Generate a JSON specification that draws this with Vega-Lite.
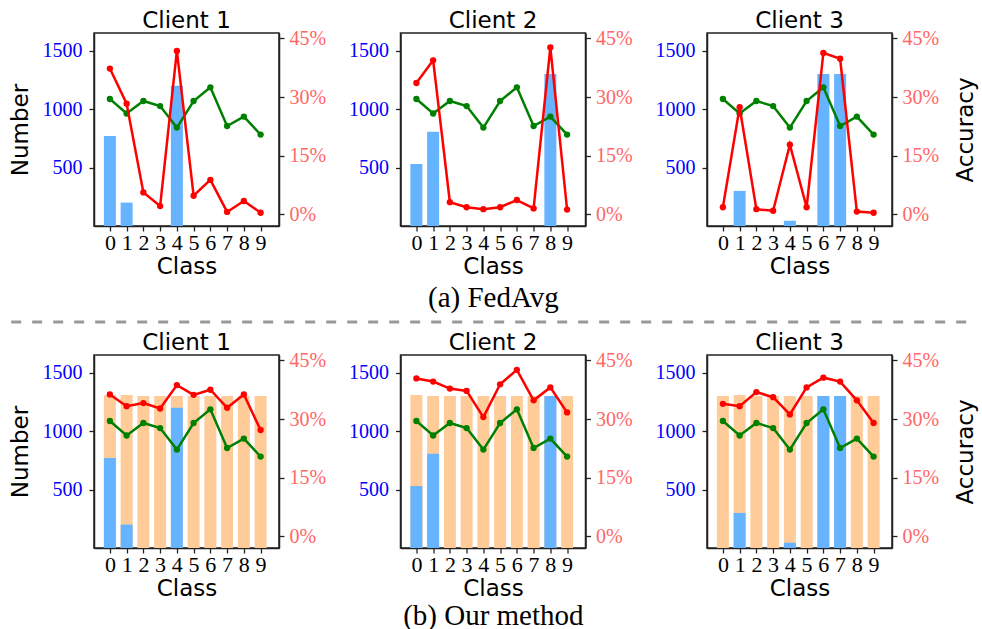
{
  "$schema": "https://vega.github.io/schema/vega-lite/v6.json",
  "background": "white",
  "padding": {"left": 4, "top": 9, "right": 0, "bottom": 0},
  "config": {
    "view": {"stroke": "#222", "strokeWidth": 1.5},
    "axis": {"grid": false, "domainColor": "#222", "tickColor": "#222", "domainWidth": 1.5, "tickWidth": 1.3, "tickSize": 5, "labelFont": "Liberation Serif", "labelFontSize": 20, "labelPadding": 3, "titleFont": "DejaVu Sans", "titleFontSize": 23, "titleFontWeight": "normal", "titleColor": "black", "labelColor": "black"},
    "title": {"font": "DejaVu Sans", "fontSize": 23, "fontWeight": "normal", "color": "black", "anchor": "middle", "frame": "group", "offset": -5}
  },
  "datasets": {
    "d": [
      {"m":"a","c":1,"k":0,"n":770,"r":37.3,"g":29.5},
      {"m":"a","c":1,"k":1,"n":200,"r":28.3,"g":25.8},
      {"m":"a","c":1,"k":2,"n":0,"r":5.6,"g":29.0},
      {"m":"a","c":1,"k":3,"n":0,"r":2.1,"g":27.7},
      {"m":"a","c":1,"k":4,"n":1200,"r":41.8,"g":22.2},
      {"m":"a","c":1,"k":5,"n":0,"r":4.75,"g":29.0},
      {"m":"a","c":1,"k":6,"n":0,"r":8.8,"g":32.5},
      {"m":"a","c":1,"k":7,"n":0,"r":0.6,"g":22.6},
      {"m":"a","c":1,"k":8,"n":0,"r":3.4,"g":25.0},
      {"m":"a","c":1,"k":9,"n":0,"r":0.4,"g":20.4},
      {"m":"a","c":2,"k":0,"n":530,"r":33.6,"g":29.5},
      {"m":"a","c":2,"k":1,"n":805,"r":39.4,"g":25.8},
      {"m":"a","c":2,"k":2,"n":0,"r":3.1,"g":29.0},
      {"m":"a","c":2,"k":3,"n":0,"r":1.8,"g":27.7},
      {"m":"a","c":2,"k":4,"n":0,"r":1.3,"g":22.2},
      {"m":"a","c":2,"k":5,"n":0,"r":1.8,"g":29.0},
      {"m":"a","c":2,"k":6,"n":0,"r":3.65,"g":32.5},
      {"m":"a","c":2,"k":7,"n":0,"r":1.5,"g":22.6},
      {"m":"a","c":2,"k":8,"n":1300,"r":42.7,"g":25.0},
      {"m":"a","c":2,"k":9,"n":0,"r":1.2,"g":20.4},
      {"m":"a","c":3,"k":0,"n":0,"r":1.8,"g":29.5},
      {"m":"a","c":3,"k":1,"n":300,"r":27.4,"g":25.8},
      {"m":"a","c":3,"k":2,"n":0,"r":1.3,"g":29.0},
      {"m":"a","c":3,"k":3,"n":0,"r":0.9,"g":27.7},
      {"m":"a","c":3,"k":4,"n":45,"r":17.8,"g":22.2},
      {"m":"a","c":3,"k":5,"n":0,"r":1.8,"g":29.0},
      {"m":"a","c":3,"k":6,"n":1300,"r":41.3,"g":32.5},
      {"m":"a","c":3,"k":7,"n":1300,"r":39.8,"g":22.6},
      {"m":"a","c":3,"k":8,"n":0,"r":0.7,"g":25.0},
      {"m":"a","c":3,"k":9,"n":0,"r":0.4,"g":20.4},
      {"m":"b","c":1,"k":0,"n":770,"t":1308,"r":36.3,"g":29.5},
      {"m":"b","c":1,"k":1,"n":200,"t":1308,"r":33.3,"g":25.8},
      {"m":"b","c":1,"k":2,"n":0,"t":1300,"r":34.1,"g":29.0},
      {"m":"b","c":1,"k":3,"n":0,"t":1300,"r":32.7,"g":27.7},
      {"m":"b","c":1,"k":4,"n":1200,"t":1300,"r":38.7,"g":22.2},
      {"m":"b","c":1,"k":5,"n":0,"t":1300,"r":36.2,"g":29.0},
      {"m":"b","c":1,"k":6,"n":0,"t":1300,"r":37.5,"g":32.5},
      {"m":"b","c":1,"k":7,"n":0,"t":1300,"r":32.9,"g":22.6},
      {"m":"b","c":1,"k":8,"n":0,"t":1300,"r":36.3,"g":25.0},
      {"m":"b","c":1,"k":9,"n":0,"t":1300,"r":27.2,"g":20.4},
      {"m":"b","c":2,"k":0,"n":530,"t":1308,"r":40.4,"g":29.5},
      {"m":"b","c":2,"k":1,"n":805,"t":1300,"r":39.6,"g":25.8},
      {"m":"b","c":2,"k":2,"n":0,"t":1300,"r":37.8,"g":29.0},
      {"m":"b","c":2,"k":3,"n":0,"t":1300,"r":37.2,"g":27.7},
      {"m":"b","c":2,"k":4,"n":0,"t":1300,"r":30.5,"g":22.2},
      {"m":"b","c":2,"k":5,"n":0,"t":1300,"r":38.9,"g":29.0},
      {"m":"b","c":2,"k":6,"n":0,"t":1300,"r":42.6,"g":32.5},
      {"m":"b","c":2,"k":7,"n":0,"t":1300,"r":34.8,"g":22.6},
      {"m":"b","c":2,"k":8,"n":1300,"t":1300,"r":38.1,"g":25.0},
      {"m":"b","c":2,"k":9,"n":0,"t":1300,"r":31.7,"g":20.4},
      {"m":"b","c":3,"k":0,"n":0,"t":1300,"r":33.9,"g":29.5},
      {"m":"b","c":3,"k":1,"n":300,"t":1308,"r":33.3,"g":25.8},
      {"m":"b","c":3,"k":2,"n":0,"t":1300,"r":36.9,"g":29.0},
      {"m":"b","c":3,"k":3,"n":0,"t":1300,"r":35.6,"g":27.7},
      {"m":"b","c":3,"k":4,"n":45,"t":1300,"r":31.2,"g":22.2},
      {"m":"b","c":3,"k":5,"n":0,"t":1300,"r":38.1,"g":29.0},
      {"m":"b","c":3,"k":6,"n":1300,"t":1300,"r":40.6,"g":32.5},
      {"m":"b","c":3,"k":7,"n":1300,"t":1300,"r":39.6,"g":22.6},
      {"m":"b","c":3,"k":8,"n":0,"t":1300,"r":34.8,"g":25.0},
      {"m":"b","c":3,"k":9,"n":0,"t":1300,"r":29.0,"g":20.4}
    ]
  },
  "data": {"name": "d"},
  "spacing": 7,
  "vconcat": [
    {
      "bounds": "flush",
      "spacing": 121.5,
      "title": {"text": "(a) FedAvg", "orient": "bottom", "font": "Liberation Serif", "fontSize": 29, "frame": "bounds", "offset": 5},
      "hconcat": [
        {
          "width": 185, "height": 193,
          "title": {"text": "Client 1"},
          "transform": [{"filter": "datum.m === 'a' && datum.c === 1"}],
          "layer": [
            {"layer": [
              {"mark": {"type": "bar", "width": 12, "color": "#66b3ff"},
               "encoding": {
                 "x": {"field": "k", "type": "quantitative", "scale": {"domain": [-0.65, 9.8], "nice": false, "zero": false}, "axis": {"values": [0,1,2,3,4,5,6,7,8,9], "format": "d", "labelOverlap": false, "title": "Class", "labelFontSize": 22, "labelPadding": 1, "titlePadding": 2}},
                 "y": {"field": "n", "type": "quantitative", "scale": {"domain": [0, 1650], "nice": false}, "axis": {"orient": "left", "values": [500, 1000, 1500], "format": "d", "labelPadding": 7, "labelColor": "#0000ff", "title": "Number", "titlePadding": 10}}
               }}
            ]},
            {"layer": [
              {"mark": {"type": "line", "color": "#008000", "strokeWidth": 2.5, "point": {"filled": true, "size": 40, "color": "#008000"}},
               "encoding": {
                 "x": {"field": "k", "type": "quantitative", "axis": {"values": [0,1,2,3,4,5,6,7,8,9], "format": "d", "labelOverlap": false, "title": "Class", "labelFontSize": 22, "labelPadding": 1, "titlePadding": 2}},
                 "y": {"field": "g", "type": "quantitative", "scale": {"domain": [-3, 46.4], "nice": false, "zero": false}, "axis": {"orient": "right", "values": [0, 15, 30, 45], "labelExpr": "datum.value + '%'", "labelPadding": 5, "labelColor": "#ff6666", "title": null}}
               }},
              {"mark": {"type": "line", "color": "#ff0000", "strokeWidth": 2.5, "point": {"filled": true, "size": 40, "color": "#ff0000"}},
               "encoding": {
                 "x": {"field": "k", "type": "quantitative", "axis": {"values": [0,1,2,3,4,5,6,7,8,9], "format": "d", "labelOverlap": false, "title": "Class", "labelFontSize": 22, "labelPadding": 1, "titlePadding": 2}},
                 "y": {"field": "r", "type": "quantitative"}
               }}
            ]}
          ],
          "resolve": {"scale": {"y": "independent"}}
        },
        {
          "width": 185, "height": 193,
          "title": {"text": "Client 2"},
          "transform": [{"filter": "datum.m === 'a' && datum.c === 2"}],
          "layer": [
            {"layer": [
              {"mark": {"type": "bar", "width": 12, "color": "#66b3ff"},
               "encoding": {
                 "x": {"field": "k", "type": "quantitative", "scale": {"domain": [-0.65, 9.8], "nice": false, "zero": false}, "axis": {"values": [0,1,2,3,4,5,6,7,8,9], "format": "d", "labelOverlap": false, "title": "Class", "labelFontSize": 22, "labelPadding": 1, "titlePadding": 2}},
                 "y": {"field": "n", "type": "quantitative", "scale": {"domain": [0, 1650], "nice": false}, "axis": {"orient": "left", "values": [500, 1000, 1500], "format": "d", "labelPadding": 7, "labelColor": "#0000ff", "title": null}}
               }}
            ]},
            {"layer": [
              {"mark": {"type": "line", "color": "#008000", "strokeWidth": 2.5, "point": {"filled": true, "size": 40, "color": "#008000"}},
               "encoding": {
                 "x": {"field": "k", "type": "quantitative", "axis": {"values": [0,1,2,3,4,5,6,7,8,9], "format": "d", "labelOverlap": false, "title": "Class", "labelFontSize": 22, "labelPadding": 1, "titlePadding": 2}},
                 "y": {"field": "g", "type": "quantitative", "scale": {"domain": [-3, 46.4], "nice": false, "zero": false}, "axis": {"orient": "right", "values": [0, 15, 30, 45], "labelExpr": "datum.value + '%'", "labelPadding": 5, "labelColor": "#ff6666", "title": null}}
               }},
              {"mark": {"type": "line", "color": "#ff0000", "strokeWidth": 2.5, "point": {"filled": true, "size": 40, "color": "#ff0000"}},
               "encoding": {
                 "x": {"field": "k", "type": "quantitative", "axis": {"values": [0,1,2,3,4,5,6,7,8,9], "format": "d", "labelOverlap": false, "title": "Class", "labelFontSize": 22, "labelPadding": 1, "titlePadding": 2}},
                 "y": {"field": "r", "type": "quantitative"}
               }}
            ]}
          ],
          "resolve": {"scale": {"y": "independent"}}
        },
        {
          "width": 185, "height": 193,
          "title": {"text": "Client 3"},
          "transform": [{"filter": "datum.m === 'a' && datum.c === 3"}],
          "layer": [
            {"layer": [
              {"mark": {"type": "bar", "width": 12, "color": "#66b3ff"},
               "encoding": {
                 "x": {"field": "k", "type": "quantitative", "scale": {"domain": [-0.65, 9.8], "nice": false, "zero": false}, "axis": {"values": [0,1,2,3,4,5,6,7,8,9], "format": "d", "labelOverlap": false, "title": "Class", "labelFontSize": 22, "labelPadding": 1, "titlePadding": 2}},
                 "y": {"field": "n", "type": "quantitative", "scale": {"domain": [0, 1650], "nice": false}, "axis": {"orient": "left", "values": [500, 1000, 1500], "format": "d", "labelPadding": 7, "labelColor": "#0000ff", "title": null}}
               }}
            ]},
            {"layer": [
              {"mark": {"type": "line", "color": "#008000", "strokeWidth": 2.5, "point": {"filled": true, "size": 40, "color": "#008000"}},
               "encoding": {
                 "x": {"field": "k", "type": "quantitative", "axis": {"values": [0,1,2,3,4,5,6,7,8,9], "format": "d", "labelOverlap": false, "title": "Class", "labelFontSize": 22, "labelPadding": 1, "titlePadding": 2}},
                 "y": {"field": "g", "type": "quantitative", "scale": {"domain": [-3, 46.4], "nice": false, "zero": false}, "axis": {"orient": "right", "values": [0, 15, 30, 45], "labelExpr": "datum.value + '%'", "labelPadding": 5, "labelColor": "#ff6666", "title": "Accuracy", "titleAngle": 270, "titlePadding": 39}}
               }},
              {"mark": {"type": "line", "color": "#ff0000", "strokeWidth": 2.5, "point": {"filled": true, "size": 40, "color": "#ff0000"}},
               "encoding": {
                 "x": {"field": "k", "type": "quantitative", "axis": {"values": [0,1,2,3,4,5,6,7,8,9], "format": "d", "labelOverlap": false, "title": "Class", "labelFontSize": 22, "labelPadding": 1, "titlePadding": 2}},
                 "y": {"field": "r", "type": "quantitative"}
               }}
            ]}
          ],
          "resolve": {"scale": {"y": "independent"}}
        }
      ]
    },
    {
      "data": {"values": [{}]},
      "width": 878, "height": 1,
      "view": {"stroke": null},
      "mark": {"type": "rule", "color": "#999999", "strokeWidth": 3, "strokeDash": [10, 11], "strokeDashOffset": 16},
      "encoding": {
        "x": {"datum": -0.1, "type": "quantitative", "scale": {"domain": [0, 1], "nice": false, "zero": false}, "axis": null},
        "x2": {"datum": 1},
        "y": {"datum": 0, "type": "quantitative", "scale": {"domain": [0, 1]}, "axis": null}
      }
    },
    {
      "bounds": "flush",
      "spacing": 121.5,
      "title": {"text": "(b) Our method", "orient": "bottom", "font": "Liberation Serif", "fontSize": 29, "frame": "bounds", "offset": 1},
      "hconcat": [
        {
          "width": 185, "height": 193,
          "title": {"text": "Client 1"},
          "transform": [{"filter": "datum.m === 'b' && datum.c === 1"}],
          "layer": [
            {"layer": [
              {"mark": {"type": "bar", "width": 12, "color": "#ffcc99"},
               "encoding": {
                 "x": {"field": "k", "type": "quantitative", "scale": {"domain": [-0.65, 9.8], "nice": false, "zero": false}, "axis": {"values": [0,1,2,3,4,5,6,7,8,9], "format": "d", "labelOverlap": false, "title": "Class", "labelFontSize": 22, "labelPadding": 1, "titlePadding": 2}},
                 "y": {"field": "t", "type": "quantitative", "scale": {"domain": [0, 1650], "nice": false}, "axis": {"orient": "left", "values": [500, 1000, 1500], "format": "d", "labelPadding": 7, "labelColor": "#0000ff", "title": "Number", "titlePadding": 10}}
               }},
              {"mark": {"type": "bar", "width": 12, "color": "#66b3ff"},
               "encoding": {
                 "x": {"field": "k", "type": "quantitative", "axis": {"values": [0,1,2,3,4,5,6,7,8,9], "format": "d", "labelOverlap": false, "title": "Class", "labelFontSize": 22, "labelPadding": 1, "titlePadding": 2}},
                 "y": {"field": "n", "type": "quantitative"}
               }}
            ]},
            {"layer": [
              {"mark": {"type": "line", "color": "#008000", "strokeWidth": 2.5, "point": {"filled": true, "size": 40, "color": "#008000"}},
               "encoding": {
                 "x": {"field": "k", "type": "quantitative", "axis": {"values": [0,1,2,3,4,5,6,7,8,9], "format": "d", "labelOverlap": false, "title": "Class", "labelFontSize": 22, "labelPadding": 1, "titlePadding": 2}},
                 "y": {"field": "g", "type": "quantitative", "scale": {"domain": [-3, 46.4], "nice": false, "zero": false}, "axis": {"orient": "right", "values": [0, 15, 30, 45], "labelExpr": "datum.value + '%'", "labelPadding": 5, "labelColor": "#ff6666", "title": null}}
               }},
              {"mark": {"type": "line", "color": "#ff0000", "strokeWidth": 2.5, "point": {"filled": true, "size": 40, "color": "#ff0000"}},
               "encoding": {
                 "x": {"field": "k", "type": "quantitative", "axis": {"values": [0,1,2,3,4,5,6,7,8,9], "format": "d", "labelOverlap": false, "title": "Class", "labelFontSize": 22, "labelPadding": 1, "titlePadding": 2}},
                 "y": {"field": "r", "type": "quantitative"}
               }}
            ]}
          ],
          "resolve": {"scale": {"y": "independent"}}
        },
        {
          "width": 185, "height": 193,
          "title": {"text": "Client 2"},
          "transform": [{"filter": "datum.m === 'b' && datum.c === 2"}],
          "layer": [
            {"layer": [
              {"mark": {"type": "bar", "width": 12, "color": "#ffcc99"},
               "encoding": {
                 "x": {"field": "k", "type": "quantitative", "scale": {"domain": [-0.65, 9.8], "nice": false, "zero": false}, "axis": {"values": [0,1,2,3,4,5,6,7,8,9], "format": "d", "labelOverlap": false, "title": "Class", "labelFontSize": 22, "labelPadding": 1, "titlePadding": 2}},
                 "y": {"field": "t", "type": "quantitative", "scale": {"domain": [0, 1650], "nice": false}, "axis": {"orient": "left", "values": [500, 1000, 1500], "format": "d", "labelPadding": 7, "labelColor": "#0000ff", "title": null}}
               }},
              {"mark": {"type": "bar", "width": 12, "color": "#66b3ff"},
               "encoding": {
                 "x": {"field": "k", "type": "quantitative", "axis": {"values": [0,1,2,3,4,5,6,7,8,9], "format": "d", "labelOverlap": false, "title": "Class", "labelFontSize": 22, "labelPadding": 1, "titlePadding": 2}},
                 "y": {"field": "n", "type": "quantitative"}
               }}
            ]},
            {"layer": [
              {"mark": {"type": "line", "color": "#008000", "strokeWidth": 2.5, "point": {"filled": true, "size": 40, "color": "#008000"}},
               "encoding": {
                 "x": {"field": "k", "type": "quantitative", "axis": {"values": [0,1,2,3,4,5,6,7,8,9], "format": "d", "labelOverlap": false, "title": "Class", "labelFontSize": 22, "labelPadding": 1, "titlePadding": 2}},
                 "y": {"field": "g", "type": "quantitative", "scale": {"domain": [-3, 46.4], "nice": false, "zero": false}, "axis": {"orient": "right", "values": [0, 15, 30, 45], "labelExpr": "datum.value + '%'", "labelPadding": 5, "labelColor": "#ff6666", "title": null}}
               }},
              {"mark": {"type": "line", "color": "#ff0000", "strokeWidth": 2.5, "point": {"filled": true, "size": 40, "color": "#ff0000"}},
               "encoding": {
                 "x": {"field": "k", "type": "quantitative", "axis": {"values": [0,1,2,3,4,5,6,7,8,9], "format": "d", "labelOverlap": false, "title": "Class", "labelFontSize": 22, "labelPadding": 1, "titlePadding": 2}},
                 "y": {"field": "r", "type": "quantitative"}
               }}
            ]}
          ],
          "resolve": {"scale": {"y": "independent"}}
        },
        {
          "width": 185, "height": 193,
          "title": {"text": "Client 3"},
          "transform": [{"filter": "datum.m === 'b' && datum.c === 3"}],
          "layer": [
            {"layer": [
              {"mark": {"type": "bar", "width": 12, "color": "#ffcc99"},
               "encoding": {
                 "x": {"field": "k", "type": "quantitative", "scale": {"domain": [-0.65, 9.8], "nice": false, "zero": false}, "axis": {"values": [0,1,2,3,4,5,6,7,8,9], "format": "d", "labelOverlap": false, "title": "Class", "labelFontSize": 22, "labelPadding": 1, "titlePadding": 2}},
                 "y": {"field": "t", "type": "quantitative", "scale": {"domain": [0, 1650], "nice": false}, "axis": {"orient": "left", "values": [500, 1000, 1500], "format": "d", "labelPadding": 7, "labelColor": "#0000ff", "title": null}}
               }},
              {"mark": {"type": "bar", "width": 12, "color": "#66b3ff"},
               "encoding": {
                 "x": {"field": "k", "type": "quantitative", "axis": {"values": [0,1,2,3,4,5,6,7,8,9], "format": "d", "labelOverlap": false, "title": "Class", "labelFontSize": 22, "labelPadding": 1, "titlePadding": 2}},
                 "y": {"field": "n", "type": "quantitative"}
               }}
            ]},
            {"layer": [
              {"mark": {"type": "line", "color": "#008000", "strokeWidth": 2.5, "point": {"filled": true, "size": 40, "color": "#008000"}},
               "encoding": {
                 "x": {"field": "k", "type": "quantitative", "axis": {"values": [0,1,2,3,4,5,6,7,8,9], "format": "d", "labelOverlap": false, "title": "Class", "labelFontSize": 22, "labelPadding": 1, "titlePadding": 2}},
                 "y": {"field": "g", "type": "quantitative", "scale": {"domain": [-3, 46.4], "nice": false, "zero": false}, "axis": {"orient": "right", "values": [0, 15, 30, 45], "labelExpr": "datum.value + '%'", "labelPadding": 5, "labelColor": "#ff6666", "title": "Accuracy", "titleAngle": 270, "titlePadding": 39}}
               }},
              {"mark": {"type": "line", "color": "#ff0000", "strokeWidth": 2.5, "point": {"filled": true, "size": 40, "color": "#ff0000"}},
               "encoding": {
                 "x": {"field": "k", "type": "quantitative", "axis": {"values": [0,1,2,3,4,5,6,7,8,9], "format": "d", "labelOverlap": false, "title": "Class", "labelFontSize": 22, "labelPadding": 1, "titlePadding": 2}},
                 "y": {"field": "r", "type": "quantitative"}
               }}
            ]}
          ],
          "resolve": {"scale": {"y": "independent"}}
        }
      ]
    }
  ]
}
